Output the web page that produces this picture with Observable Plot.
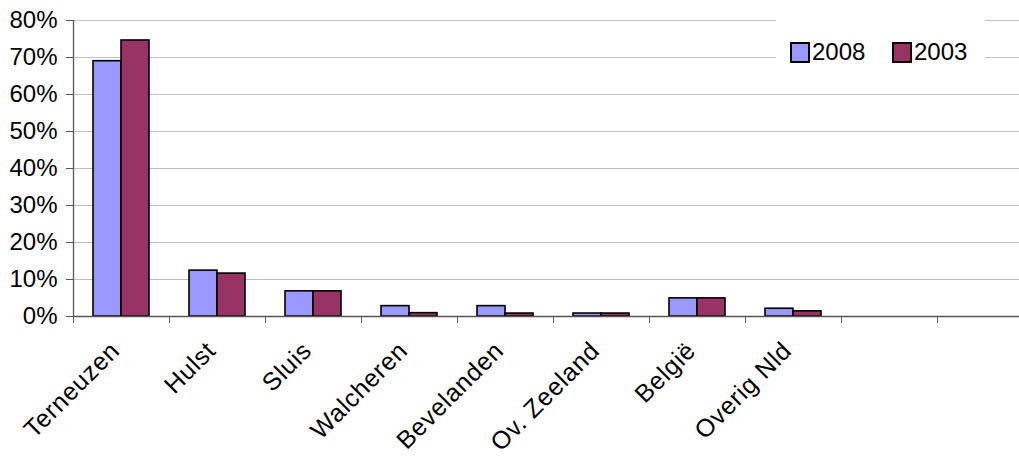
<!DOCTYPE html>
<html>
<head>
<meta charset="utf-8">
<script src="https://cdn.jsdelivr.net/npm/d3@7"></script>
<script src="https://cdn.jsdelivr.net/npm/@observablehq/plot@0.6"></script>
<style>
  html, body { margin: 0; padding: 0; background: #fff; }
  #wrap { position: relative; width: 1019px; height: 459px; overflow: hidden; font-family: "Liberation Sans", Arial, sans-serif; }
  #legend { position: absolute; left: 776px; top: 17px; width: 209px; height: 66px; background: #fff; font-size: 24px; color: #000; }
  .item { position: absolute; top: 25px; display: flex; align-items: center; height: 20px; }
  .sw { width: 16px; height: 17px; border: 2px solid #000; margin-right: 2px; }
  .xlab text { letter-spacing: 0.7px; }
</style>
</head>
<body>
<div id="wrap"></div>
<script>
const categories = ["Terneuzen", "Hulst", "Sluis", "Walcheren", "Bevelanden", "Ov. Zeeland", "België", "Overig Nld", " ", "  "];
const series = ["2008", "2003"];
const values2008 = [69.0, 12.4, 6.8, 2.8, 2.8, 0.8, 4.9, 2.1];
const values2003 = [74.6, 11.6, 6.8, 0.9, 0.8, 0.8, 4.9, 1.4];
const colors = ["#9999FF", "#993366"];
const yTicks = [0, 10, 20, 30, 40, 50, 60, 70, 80];

const rows = [];
categories.slice(0, 8).forEach((c, i) => {
  rows.push({cat: c, year: "2008", value: values2008[i]});
  rows.push({cat: c, year: "2003", value: values2003[i]});
});

const font = '"Liberation Sans", Arial, sans-serif';
const chart = Plot.plot({
  width: 1019,
  height: 459,
  marginLeft: 73,
  marginRight: -14,
  marginTop: 20,
  marginBottom: 143,
  style: {fontFamily: font, fontSize: "24px", background: "#fff", color: "#000"},
  x: {domain: categories, padding: 0, axis: null},
  y: {domain: [0, 80], axis: null},
  marks: [
    Plot.gridY(yTicks, {stroke: "#c0c0c0", strokeOpacity: 1, strokeWidth: 1}),
    Plot.barY(rows.filter(d => d.year === "2008"), {x: "cat", y: "value", fill: colors[0], stroke: "#000", strokeWidth: 1.6, insetLeft: 20, insetRight: 48}),
    Plot.barY(rows.filter(d => d.year === "2003"), {x: "cat", y: "value", fill: colors[1], stroke: "#000", strokeWidth: 1.6, insetLeft: 48, insetRight: 20}),
    Plot.ruleY([0], {stroke: "#555", strokeWidth: 1.3}),
    Plot.ruleX([categories[0]], {x: d => d, dx: -48, y1: 0, y2: 80, stroke: "#555", strokeWidth: 1.3}),
    Plot.axisY(yTicks, {label: null, tickSize: 7, tickPadding: 9, tickFormat: d => d + "%", stroke: "#555", fontSize: 24, fill: "#000"}),
    Plot.axisX(categories, {label: null, tickSize: 7, dx: -48, tickFormat: () => "", stroke: "#555"}),
    Plot.axisX(categories.slice(0, 8), {label: null, className: "xlab", tickSize: 0, tickPadding: 30, dx: -6, tickRotate: -45, fontSize: 25, fill: "#000"})
  ]
});

const wrap = document.getElementById("wrap");
wrap.appendChild(chart);

const legend = document.createElement("div");
legend.id = "legend";
const positions = [14, 116];
series.forEach((s, i) => {
  const item = document.createElement("div");
  item.className = "item";
  item.style.left = positions[i] + "px";
  const sw = document.createElement("div");
  sw.className = "sw";
  sw.style.background = colors[i];
  const t = document.createElement("span");
  t.textContent = s;
  item.appendChild(sw);
  item.appendChild(t);
  legend.appendChild(item);
});
wrap.appendChild(legend);
</script>
</body>
</html>
